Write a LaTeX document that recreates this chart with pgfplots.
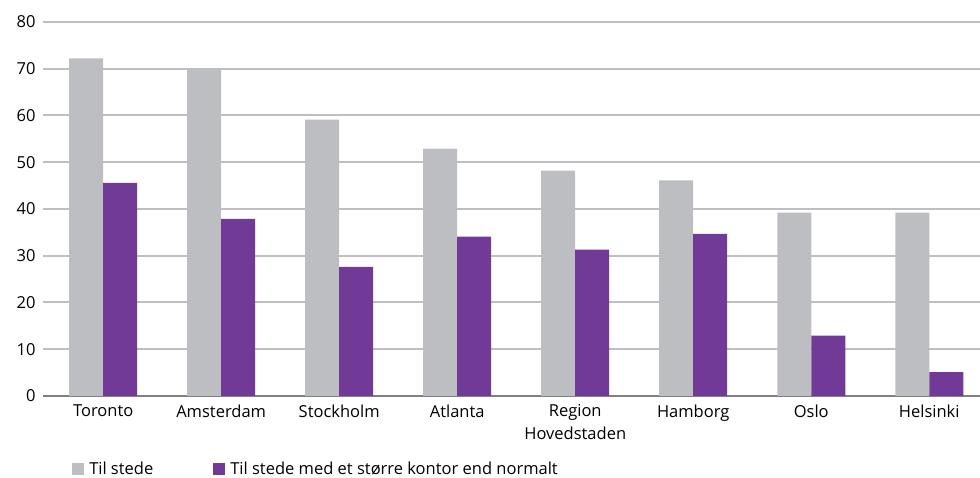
\documentclass[border=0pt]{standalone}
\usepackage{pgfplots}
\pgfplotsset{compat=1.18}
\usepackage{fontspec}
\setmainfont{Open Sans}
\definecolor{cgray}{RGB}{189,190,194}
\definecolor{cpurple}{RGB}{113,58,150}
\definecolor{cgrid}{RGB}{190,190,195}
\definecolor{caxis}{RGB}{128,128,128}
\begin{document}
\begin{tikzpicture}[font=\fontsize{16.5}{23}\selectfont]
\begin{axis}[
  scale only axis,
  width=937pt, height=374pt,
  ybar=0pt, bar width=34pt,
  xmin=-0.51, xmax=7.43,
  ymin=0, ymax=80,
  ytick={0,10,...,80},
  xtick=data,
  xticklabels={Toronto,Amsterdam,Stockholm,Atlanta,{Region\\Hovedstaden},Hamborg,Oslo,Helsinki},
  xticklabel style={align=center, yshift=-5pt},
  yticklabel style={xshift=-4pt},
  /pgf/number format/assume math mode=true,
  major tick length=0pt,
  axis y line*=left,
  y axis line style={draw=none},
  axis x line*=bottom,
  x axis line style={caxis, line width=1.5pt, -},
  ymajorgrids,
  grid style={cgrid, line width=2pt},
  clip=false,
  legend columns=2,
  legend style={at={(rel axis cs:0.031,0)}, anchor=west, yshift=-73pt, draw=none, fill=none,
    /tikz/every even column/.append style={column sep=58pt}, inner sep=0pt,
    nodes={inner xsep=2pt, inner ysep=0pt}},
  legend image code/.code={\fill[#1] (0pt,-6pt) rectangle (12pt,6pt); \path (15pt,0pt);},
]
\addplot[fill=cgray, draw=none] coordinates {(0,72.2) (1,70.0) (2,59.1) (3,52.9) (4,48.2) (5,46.1) (6,39.2) (7,39.2)};
\addplot[fill=cpurple, draw=none] coordinates {(0,45.6) (1,37.9) (2,27.6) (3,34.1) (4,31.3) (5,34.7) (6,12.9) (7,5.1)};
\legend{Til stede, Til stede med et større kontor end normalt}
\end{axis}
\pgfresetboundingbox
\path ([xshift=-43pt,yshift=-82pt]current axis.south west) rectangle ([yshift=22pt]current axis.north east);
\end{tikzpicture}
\end{document}
